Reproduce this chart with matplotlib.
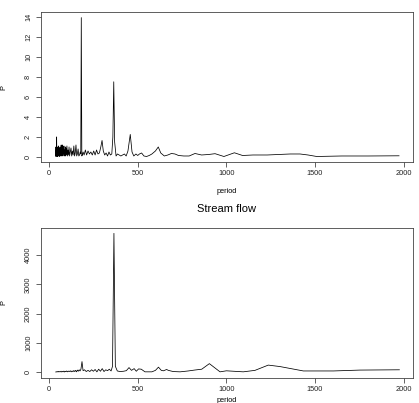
import matplotlib
matplotlib.use("Agg")
import matplotlib.pyplot as plt

# top panel: periodogram (period vs P)
top_period = [38, 39, 40, 41, 42, 43, 44, 45, 46, 47, 48, 49, 50, 51, 52, 53.5, 55,
              56.5, 58, 59.5, 61, 62.5, 64, 65.5, 67, 68.5, 70, 72, 74, 76, 78, 80,
              82, 84, 86, 88, 90, 92, 94, 96, 98, 101, 104, 107, 110, 113, 116, 120,
              124, 128, 132, 136, 140, 144, 148, 152, 156, 160, 164, 168, 172, 176,
              179, 182, 185, 188, 192, 198, 205, 212, 220, 228, 236, 244, 252, 260,
              268, 276, 284, 292, 299, 306, 314, 322, 330, 338, 346, 354, 360, 365,
              370, 378, 386, 395, 405, 415, 425, 435, 445, 458, 468, 478, 490, 500,
              510, 522, 535, 550, 565, 580, 600, 616, 630, 650, 670, 690, 710, 730,
              760, 790, 823, 860, 900, 936, 986, 1045, 1091, 1150, 1230, 1300, 1360,
              1415, 1460, 1509, 1650, 1800, 1973]
top_p = [0.1, 1.0, 0.05, 0.7, 0.1, 2.0, 0.2, 0.9, 0.1, 0.8, 0.05, 1.0, 0.2, 0.7, 0.1,
         1.1, 0.3, 0.6, 0.05, 0.9, 0.2, 1.0, 0.1, 0.5, 0.3, 1.2, 0.1, 0.8, 0.2, 1.2,
         0.1, 0.6, 0.3, 1.1, 0.1, 0.7, 0.2, 1.0, 0.1, 0.9, 0.2, 1.1, 0.1, 0.7, 0.2,
         1.0, 0.1, 0.5, 0.9, 0.1, 0.6, 0.2, 1.1, 0.1, 0.4, 1.2, 0.1, 0.3, 0.8, 0.1,
         0.2, 0.5, 0.3, 13.9, 0.1, 0.2, 0.5, 0.2, 0.7, 0.2, 0.6, 0.3, 0.5, 0.2, 0.6,
         0.2, 0.7, 0.3, 0.4, 1.0, 1.65, 0.6, 0.2, 0.4, 0.1, 0.5, 0.2, 0.3, 2.0, 7.5,
         1.5, 0.1, 0.3, 0.2, 0.1, 0.2, 0.3, 0.1, 0.6, 2.25, 0.5, 0.1, 0.3, 0.15, 0.3,
         0.4, 0.1, 0.05, 0.15, 0.3, 0.6, 1.0, 0.4, 0.1, 0.2, 0.35, 0.3, 0.15, 0.1,
         0.1, 0.35, 0.2, 0.25, 0.33, 0.05, 0.42, 0.15, 0.2, 0.2, 0.25, 0.3, 0.3, 0.2,
         0.05, 0.1, 0.1, 0.12]

# bottom panel: stream flow periodogram
flow_period = [38, 41, 44, 47, 50, 53, 56, 60, 64, 68, 72, 76, 80, 84, 88, 92, 96, 100,
               105, 110, 115, 120, 125, 130, 135, 140, 145, 150, 155, 160, 165, 170,
               175, 180, 186, 192, 200, 210, 220, 230, 240, 250, 260, 270, 280, 290,
               300, 310, 320, 330, 340, 350, 358, 366, 374, 385, 400, 420, 436, 451,
               465, 480, 492, 505, 520, 541, 580, 600, 617, 633, 645, 663, 673, 700,
               739, 785, 820, 861, 904, 964, 1000, 1095, 1161, 1236, 1302, 1434, 1603,
               1753, 1975]
flow_p = [5, 15, 3, 20, 8, 25, 5, 20, 10, 30, 5, 25, 10, 35, 5, 30, 15, 40, 10, 35,
          20, 45, 10, 40, 15, 55, 20, 60, 10, 70, 30, 80, 40, 100, 360, 50, 80, 20, 60,
          20, 80, 30, 90, 10, 100, 30, 120, 20, 80, 50, 100, 40, 200, 4740, 200, 40,
          20, 30, 50, 155, 60, 120, 30, 110, 100, 10, 10, 60, 170, 60, 45, 90, 60, 20,
          10, 40, 70, 100, 290, 10, 45, 10, 60, 240, 190, 40, 40, 70, 80]

plt.rcParams['font.family'] = ['Liberation Sans', 'DejaVu Sans']

fig = plt.figure(figsize=(4.19, 4.03), dpi=100)
ax1 = fig.add_axes([0.0979, 0.598, 0.887, 0.372])
ax2 = fig.add_axes([0.0979, 0.0628, 0.887, 0.372])

panels = [(ax1, top_period, top_p, [0, 2, 4, 6, 8, 10, 12, 14], (-0.5, 14.45), -0.173),
          (ax2, flow_period, flow_p, [0, 1000, 2000, 3000, 4000], (-190, 4930), -0.128)]

for ax, x, y, yt, yl, xl_y in panels:
    ax.plot(x, y, color='black', lw=0.55)
    ax.set_xlim(-45, 2050)
    ax.set_ylim(*yl)
    ax.set_xticks([0, 500, 1000, 1500, 2000])
    ax.set_yticks(yt)
    ax.set_yticklabels([str(v) for v in yt], rotation=90, va='center')
    ax.tick_params(labelsize=5.3, length=3.5, width=0.5, pad=2.5, colors='#222222')
    ax.tick_params(axis='y', pad=3)
    for s in ax.spines.values():
        s.set_linewidth(0.6)
        s.set_color('#444444')
    ax.set_xlabel('period', fontsize=5.3)
    ax.set_ylabel('P', fontsize=5.3)
    ax.xaxis.set_label_coords(0.5, xl_y)
    ax.yaxis.set_label_coords(-0.0915, 0.5)

ax2.text(0.5, 1.125, 'Stream flow', transform=ax2.transAxes, ha='center',
         va='center', fontsize=8)

fig.savefig('out.png', dpi=100)
